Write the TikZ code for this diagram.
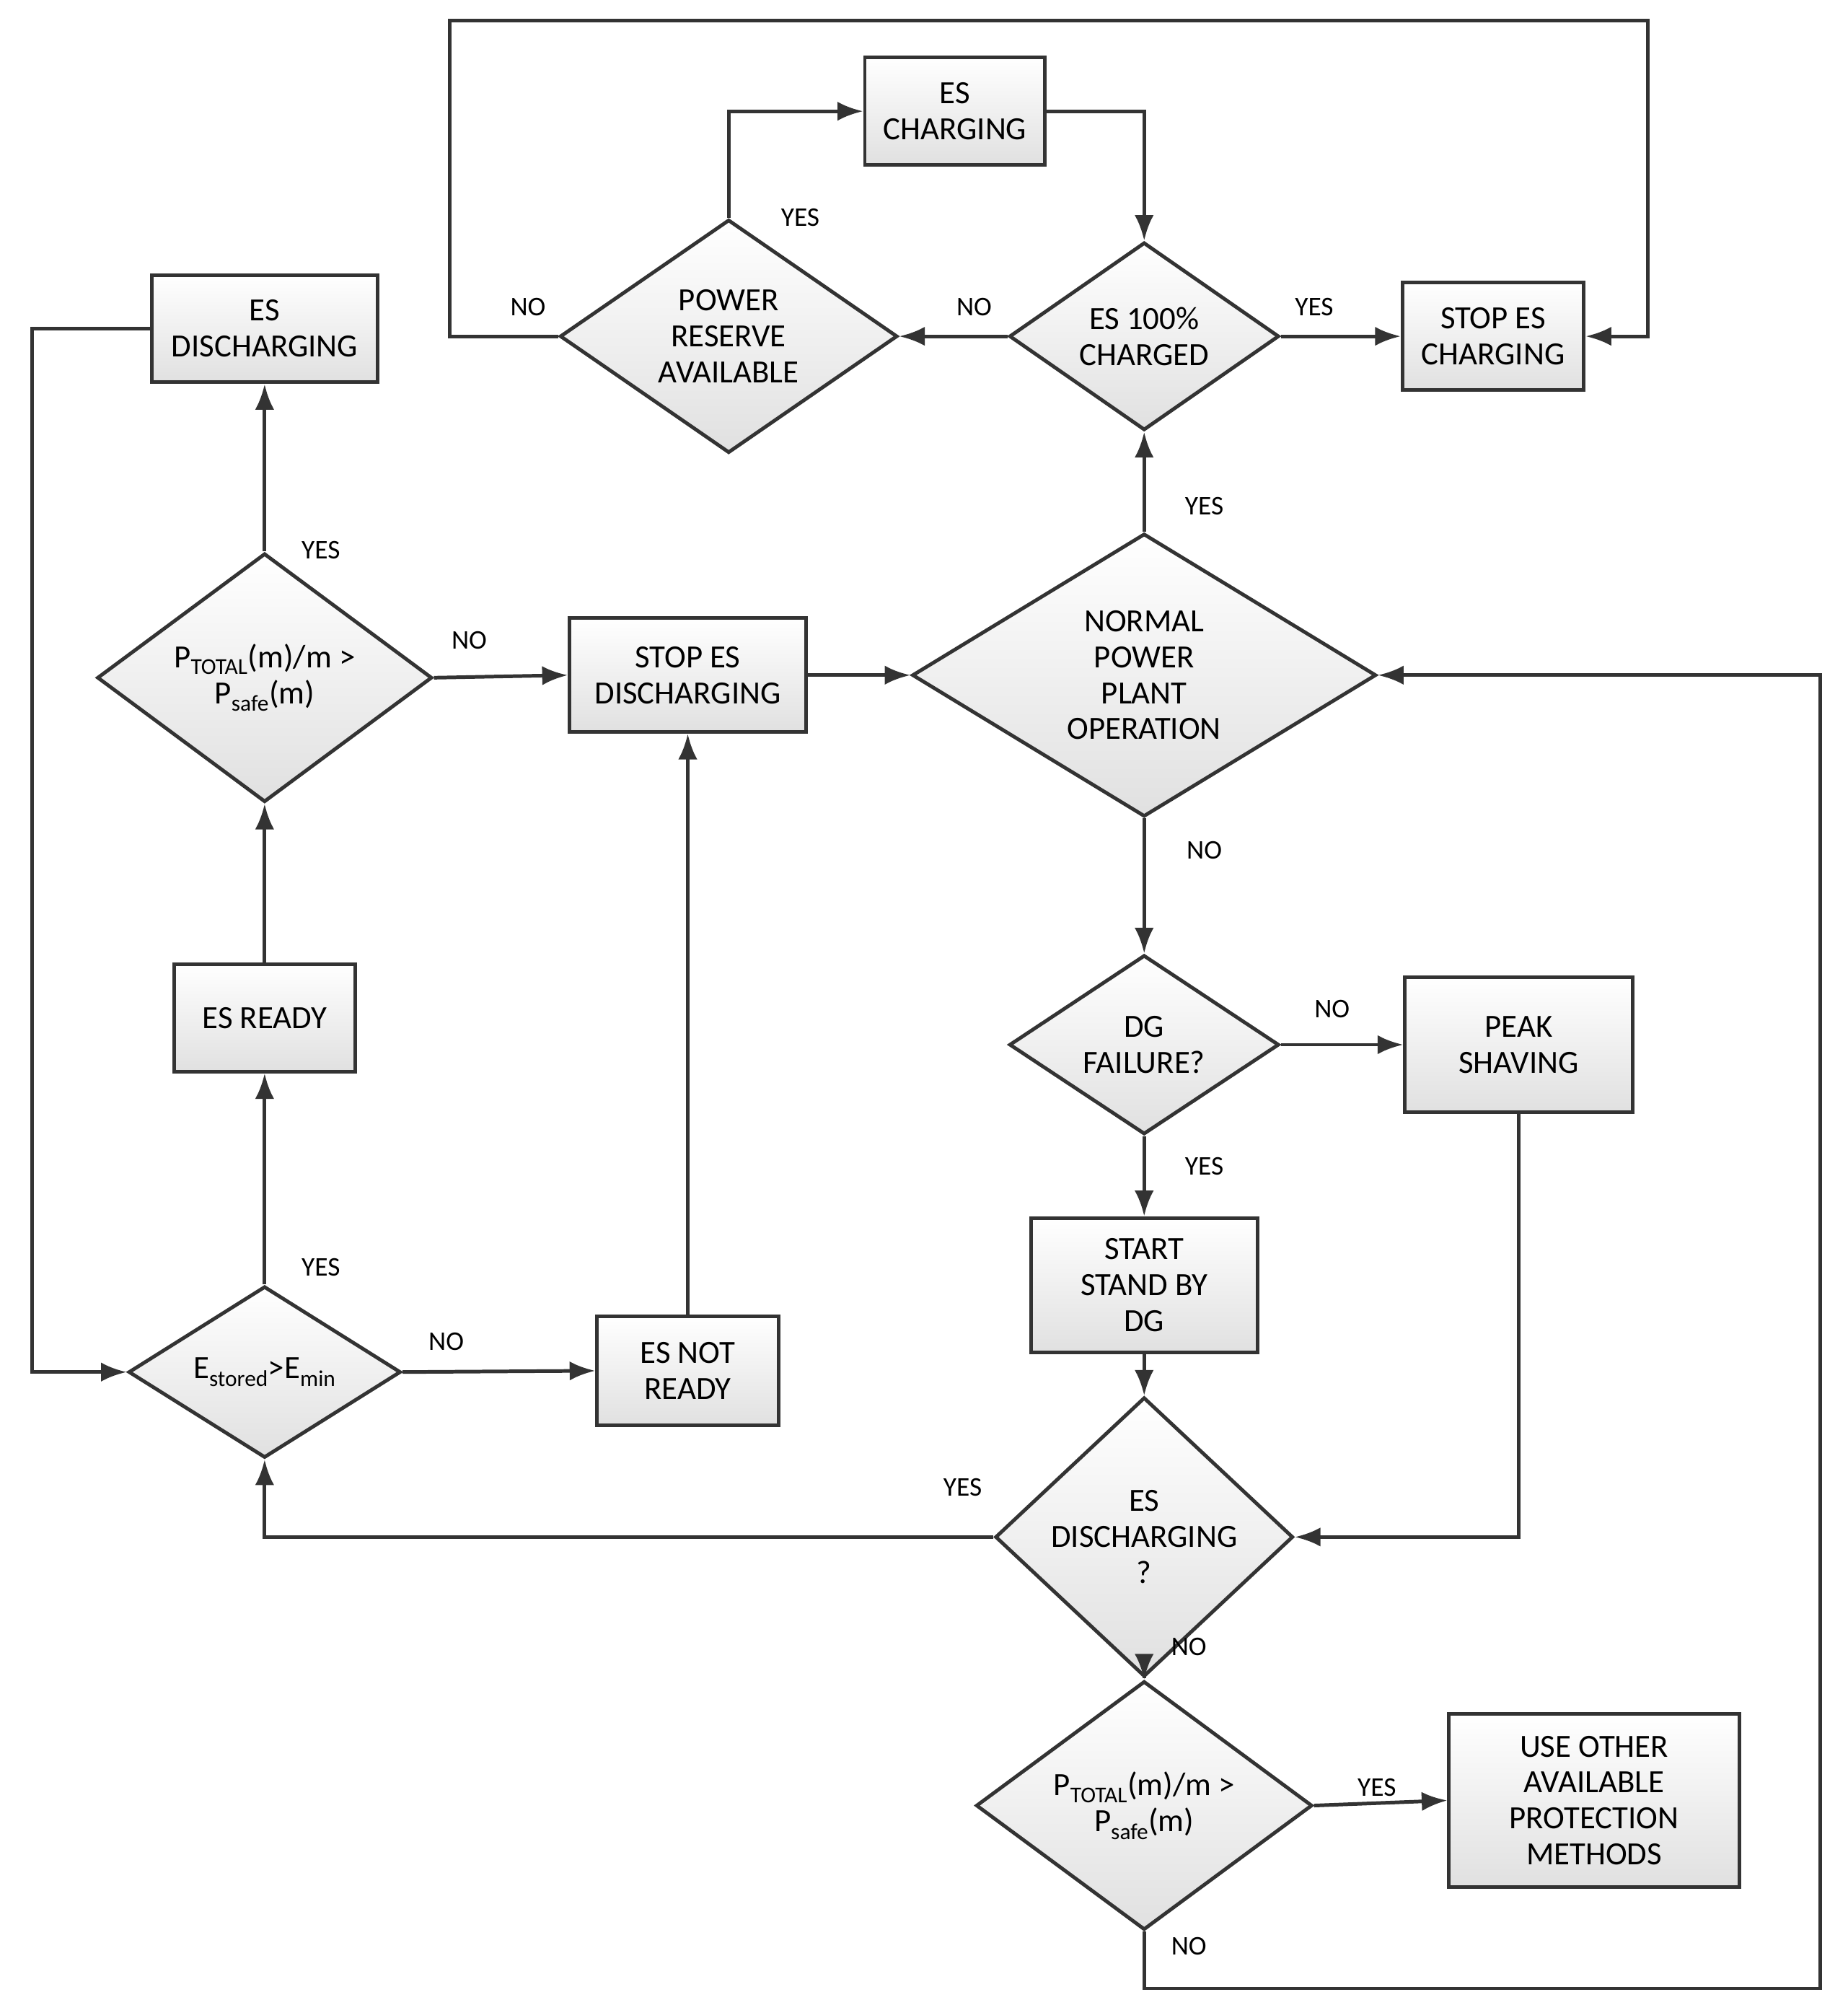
\documentclass[tikz,border=0pt]{standalone}
\usepackage{fontspec}
\setmainfont{Carlito}
\usetikzlibrary{shapes.geometric,arrows.meta}
\begin{document}
\begin{tikzpicture}[x=0.05cm,y=-0.05cm,
  every node/.style={font=\fontsize{36}{40}\selectfont},
  sh/.style={draw=black!80,line width=4pt,top color=white,bottom color=black!12,align=center,inner sep=0pt},
  box/.style={sh,rectangle},
  dia/.style={sh,diamond,aspect=1},
  lab/.style={font=\fontsize{30}{34}\selectfont},
  ar/.style={draw=black!80,line width=4pt,-{Latex[length=1cm,width=0.75cm]}},
  ln/.style={draw=black!80,line width=4pt}]
\useasboundingbox (0,0) rectangle (1445,1568);
\node[box,minimum width=7.05cm,minimum height=4.2cm] (esc) at (747,87) {ES\\CHARGING};
\node[dia,minimum width=13.2cm,minimum height=7.8cm] (pr) at (570,263) {POWER\\RESERVE\\AVAILABLE};
\node[dia,minimum width=10.55cm,minimum height=6.25cm] (e100) at (895,263) {ES 100\%\\CHARGED};
\node[box,minimum width=7.1cm,minimum height=4.2cm] (stc) at (1168,263) {STOP ES\\CHARGING};
\node[box,minimum width=8.85cm,minimum height=4.2cm] (esd) at (207,257) {ES\\DISCHARGING};
\node[dia,minimum width=13.1cm,minimum height=7.75cm] (p1) at (207,530) {P\textsubscript{TOTAL}(m)/m >\\P\textsubscript{safe}(m)};
\node[box,minimum width=9.25cm,minimum height=4.45cm] (std) at (538,528) {STOP ES\\DISCHARGING};
\node[dia,minimum width=18.15cm,minimum height=10.7cm] (norm) at (895,528) {NORMAL\\POWER\\PLANT\\OPERATION};
\node[dia,minimum width=10.55cm,minimum height=6.25cm] (dg) at (895,817) {DG\\FAILURE?};
\node[box,minimum width=8.9cm,minimum height=5.25cm] (peak) at (1188,817) {PEAK\\SHAVING};
\node[box,minimum width=8.85cm,minimum height=5.25cm] (start) at (895,1005) {START\\STAND BY\\DG};
\node[dia,minimum width=11.65cm,minimum height=6.85cm] (esq) at (895,1202) {ES\\DISCHARGING\\?};
\node[dia,minimum width=13.15cm,minimum height=7.75cm] (p2) at (895,1412) {P\textsubscript{TOTAL}(m)/m >\\P\textsubscript{safe}(m)};
\node[box,minimum width=11.35cm,minimum height=6.75cm] (use) at (1247,1408) {USE OTHER\\AVAILABLE\\PROTECTION\\METHODS};
\node[box,minimum width=7.1cm,minimum height=4.2cm] (rdy) at (207,796) {ES READY};
\node[dia,minimum width=10.65cm,minimum height=6.3cm] (est) at (207,1073) {E\textsubscript{stored}>E\textsubscript{min}};
\node[box,minimum width=7.1cm,minimum height=4.25cm] (nrdy) at (538,1072) {ES NOT\\READY};
\coordinate (c1) at (352,263);\coordinate (c2) at (352,16);\coordinate (c3) at (1289,16);\coordinate (c4) at (1289,263);
\coordinate (d1) at (25,257);\coordinate (d2) at (25,1073);
\coordinate (f1) at (895,1555);\coordinate (f2) at (1424,1555);\coordinate (f3) at (1424,528);
\draw[ar] (pr.north) |- (esc.west);
\draw[ar] (esc.east) -| (e100.north);
\draw[ar] (e100.west) -- (pr.east);
\draw[ar] (e100.east) -- (stc.west);
\draw[ar] (pr.west) -- (c1) -- (c2) -- (c3) -- (c4) -- (stc.east);
\draw[ar] (esd.west) -- (d1) -- (d2) -- (est.west);
\draw[ar] (norm.north) -- (e100.south);
\draw[ar] (norm.south) -- (dg.north);
\draw[ar] (dg.east) -- (peak.west);
\draw[ar] (dg.south) -- (start.north);
\draw[ar] (start.south) -- (esq.north);
\draw[ar] (peak.south) |- (esq.east);
\draw[ar] (esq.west) -| (est.south);
\draw[ar] (esq.south) -- (p2.north);
\draw[ar] (p2.east) -- (use.west);
\draw[ar] (p2.south) -- (f1) -- (f2) -- (f3) -- (norm.east);
\draw[ar] (est.north) -- (rdy.south);
\draw[ar] (est.east) -- (nrdy.west);
\draw[ar] (nrdy.north) -- (std.south);
\draw[ar] (rdy.north) -- (p1.south);
\draw[ar] (p1.north) -- (esd.south);
\draw[ar] (p1.east) -- (std.west);
\draw[ar] (std.east) -- (norm.west);
\node[lab] (l1) at (626,170) {YES};
\node[lab] (l2) at (762,240) {NO};
\node[lab] (l3) at (1028,240) {YES};
\node[lab] (l4) at (413,240) {NO};
\node[lab] (l5) at (942,396) {YES};
\node[lab] (l6) at (942,665) {NO};
\node[lab] (l7) at (1042,789) {NO};
\node[lab] (l8) at (942,912) {YES};
\node[lab] (l9) at (753,1163) {YES};
\node[lab] (l10) at (930,1288) {NO};
\node[lab] (l11) at (1077,1398) {YES};
\node[lab] (l12) at (930,1522) {NO};
\node[lab] (l13) at (251,991) {YES};
\node[lab] (l14) at (349,1049) {NO};
\node[lab] (l15) at (251,430) {YES};
\node[lab] (l16) at (367,501) {NO};
\end{tikzpicture}
\end{document}
